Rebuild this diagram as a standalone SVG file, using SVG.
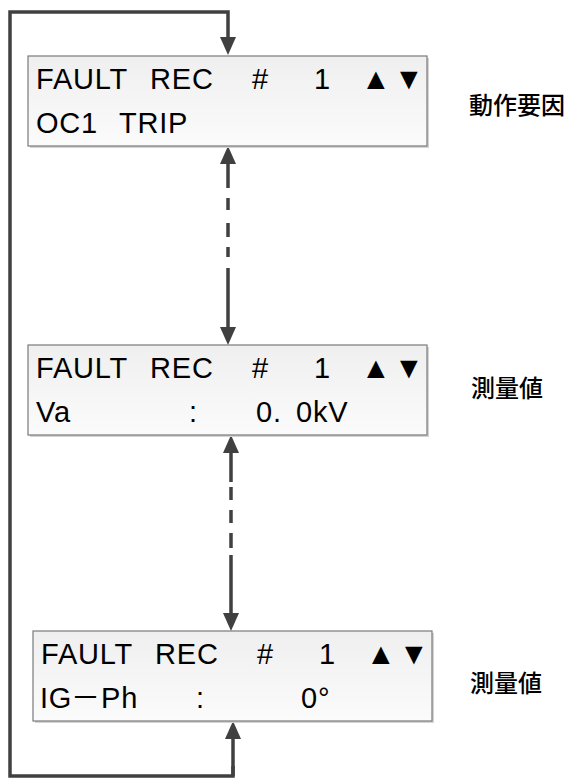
<svg xmlns="http://www.w3.org/2000/svg" width="569" height="778" viewBox="0 0 569 778">
<defs>
<style>
.box{fill:url(#bg);stroke:#7a7a7a;stroke-width:1.2}
.sh{fill:#d4d4d4}
.t{font-family:"Liberation Sans",Arial,sans-serif;font-size:29px;letter-spacing:0.8px;fill:#000}
.tri{font-family:"Liberation Sans",Arial,sans-serif;font-size:30px;fill:#000}
.jp{font-family:"Noto Sans CJK JP","Noto Sans CJK SC",sans-serif;font-size:24px;font-weight:500;fill:#000}
.dash{font-family:"Noto Sans CJK JP",sans-serif;font-size:29px;fill:#000}
.c{fill:none;stroke:#404040;stroke-width:3.5}
</style>
<linearGradient id="bg" x1="0" y1="0" x2="0" y2="1">
<stop offset="0" stop-color="#efefef"/>
<stop offset="1" stop-color="#fbfbfb"/>
</linearGradient>
<marker id="ah" viewBox="0 0 18 16" refX="8" refY="8" markerWidth="18" markerHeight="16" markerUnits="userSpaceOnUse" orient="auto-start-reverse">
<path d="M0,0 L18,8 L0,16 z" fill="#404040"/>
</marker>
</defs>

<g id="connectors">
<path class="c" d="M233,766 V776 H10 V12 H228 V45" marker-end="url(#ah)"/>
<path class="c" d="M233,776 V731" marker-end="url(#ah)"/>
<path class="c" d="M228,156 V335" stroke-dasharray="32 10 12 13 14 10 10 11 200" marker-start="url(#ah)" marker-end="url(#ah)"/>
<path class="c" d="M231,445 V621" stroke-dasharray="37 5 13 10 13 10 15 7 200" marker-start="url(#ah)" marker-end="url(#ah)"/>
</g>

<g id="node1">
<rect class="sh" x="30" y="58" width="399" height="90"/>
<rect class="box" x="28" y="56" width="399" height="90"/>
<text class="t" x="36" y="89">FAULT</text>
<text class="t" x="150" y="89">REC</text>
<text class="t" x="252" y="89">#</text>
<text class="t" x="314" y="89">1</text>
<text class="tri" x="361" y="89">▲</text>
<text class="tri" x="394" y="89">▼</text>
<text class="t" x="36" y="133">OC1</text>
<text class="t" x="119" y="133">TRIP</text>
</g>

<g id="node2">
<rect class="sh" x="30" y="347" width="399" height="90"/>
<rect class="box" x="28" y="345" width="399" height="90"/>
<text class="t" x="36" y="378">FAULT</text>
<text class="t" x="150" y="378">REC</text>
<text class="t" x="252" y="378">#</text>
<text class="t" x="314" y="378">1</text>
<text class="tri" x="361" y="378">▲</text>
<text class="tri" x="394" y="378">▼</text>
<text class="t" x="36" y="422">Va</text>
<text class="t" x="189" y="422">:</text>
<text class="t" x="256" y="422">0.</text>
<text class="t" x="296" y="422">0kV</text>
</g>

<g id="node3">
<rect class="sh" x="35" y="633" width="399" height="90"/>
<rect class="box" x="33" y="631" width="399" height="90"/>
<text class="t" x="41" y="664">FAULT</text>
<text class="t" x="155" y="664">REC</text>
<text class="t" x="257" y="664">#</text>
<text class="t" x="319" y="664">1</text>
<text class="tri" x="366" y="664">▲</text>
<text class="tri" x="399" y="664">▼</text>
<text class="t" x="40" y="708">IG<tspan class="dash" x="71">－</tspan><tspan x="101">Ph</tspan></text>
<text class="t" x="196" y="708">:</text>
<text class="t" x="301" y="708">0°</text>
</g>

<g id="label1"><text class="jp" x="469" y="114">動作要因</text></g>
<g id="label2"><text class="jp" x="471" y="397">測量値</text></g>
<g id="label3"><text class="jp" x="470" y="692">測量値</text></g>
</svg>
